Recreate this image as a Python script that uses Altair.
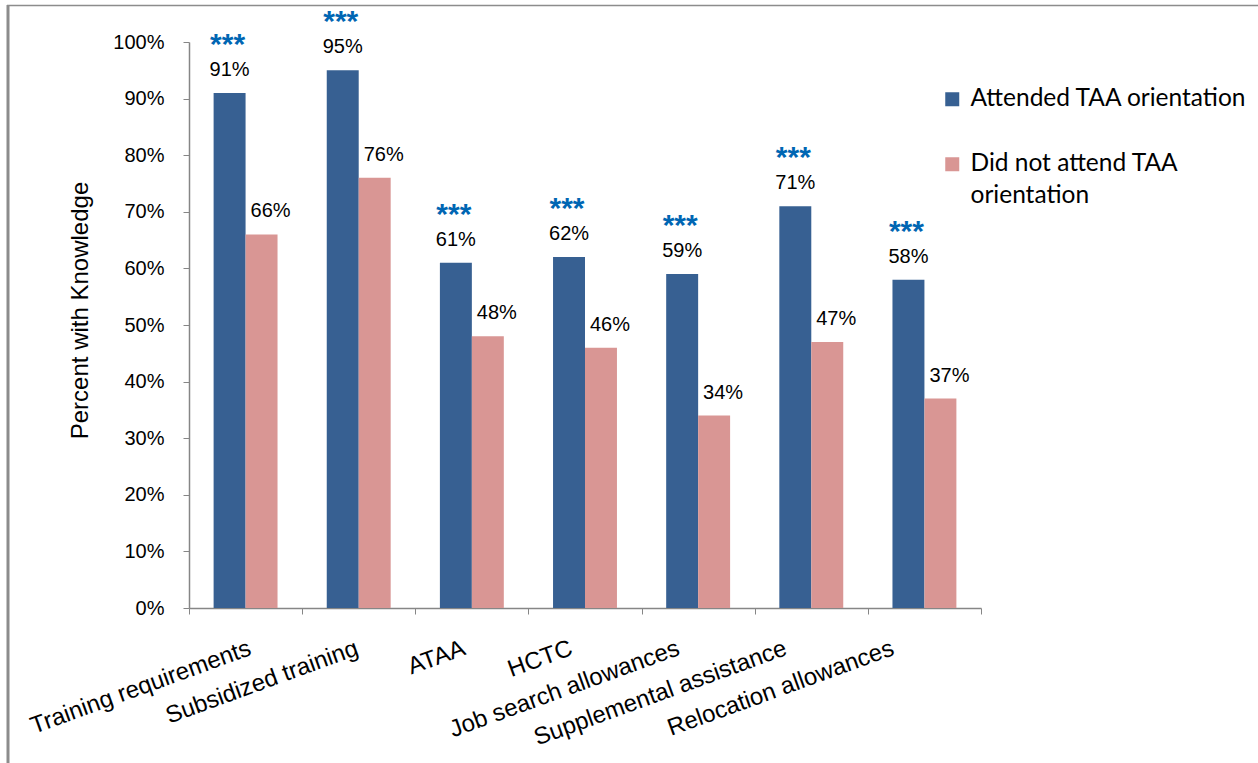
import altair as alt
import pandas as pd

# --- data -------------------------------------------------------------
categories = [
    "Training requirements",
    "Subsidized training",
    "ATAA",
    "HCTC",
    "Job search allowances",
    "Supplemental assistance",
    "Relocation allowances",
]
attended = [0.91, 0.95, 0.61, 0.62, 0.59, 0.71, 0.58]
not_attended = [0.66, 0.76, 0.48, 0.46, 0.34, 0.47, 0.37]
significance = ["***", "***", "***", "***", "***", "***", "***"]

series_names = ["Attended TAA orientation", "Did not attend TAA orientation"]
series_colors = ["#376092", "#D99694"]
y_ticks = [0.0, 0.1, 0.2, 0.3, 0.4, 0.5, 0.6, 0.7, 0.8, 0.9, 1.0]

rows = []
for cat, a, n, sig in zip(categories, attended, not_attended, significance):
    rows.append({"category": cat, "group": series_names[0], "value": a, "stars": sig})
    rows.append({"category": cat, "group": series_names[1], "value": n, "stars": ""})
df = pd.DataFrame(rows)

# --- layout -----------------------------------------------------------
W, H = 792, 566
PAD = {"left": 189, "top": 42, "right": 1258 - 189 - W, "bottom": 763 - 42 - H}
AXIS_GRAY = "#868686"
FONT = "Liberation Sans"

x_enc = alt.X(
    "category:N",
    sort=categories,
    scale=alt.Scale(domain=categories, paddingInner=0, paddingOuter=0),
    axis=alt.Axis(
        title=None,
        labelAngle=340,
        labelAlign="right",
        labelBaseline="top",
        labelFont=FONT,
        labelFontSize=24,
        labelColor="black",
        labelPadding=22,
        labelLimit=400,
        labelOverlap=False,
        labelOffset=alt.ExprRef(expr="-36 * datum.index"),
        tickBand="extent",
        tickSize=6,
        tickColor=AXIS_GRAY,
        domainColor=AXIS_GRAY,
        domainWidth=1.5,
        grid=False,
    ),
)
xoff_enc = alt.XOffset(
    "group:N",
    sort=series_names,
    scale=alt.Scale(domain=series_names, paddingInner=0, paddingOuter=0.77),
)
y_enc = alt.Y(
    "value:Q",
    scale=alt.Scale(domain=[0, 1], nice=False),
    axis=alt.Axis(
        title="Percent with Knowledge",
        titleFont=FONT,
        titleFontSize=24,
        titleFontWeight="normal",
        titleColor="black",
        titleAngle=270,
        titleBaseline="middle",
        titleAlign="center",
        titleX=-109,
        titleY=268,
        values=y_ticks,
        format=".0%",
        labelFont=FONT,
        labelFontSize=20,
        labelColor="black",
        labelPadding=19,
        tickSize=6,
        tickColor=AXIS_GRAY,
        domainColor=AXIS_GRAY,
        domainWidth=1.5,
        grid=False,
    ),
)

base = alt.Chart(df).encode(x=x_enc, xOffset=xoff_enc, y=y_enc)

bars = base.mark_bar(strokeWidth=0).encode(
    color=alt.Color(
        "group:N",
        sort=series_names,
        scale=alt.Scale(domain=series_names, range=series_colors),
        legend=alt.Legend(
            title=None,
            orient="none",
            legendX=751,
            legendY=45,
            direction="vertical",
            columns=1,
            padding=0,
            symbolType="square",
            symbolSize=196,
            symbolStrokeWidth=0,
            labelFont="Lato",
            labelFontSize=24.5,
            labelColor="black",
            labelOffset=6,
            labelLimit=400,
            rowPadding=40,
            labelExpr=(
                "datum.label == 'Did not attend TAA orientation' "
                "? ['Did not attend TAA', 'orientation'] : datum.label"
            ),
        ),
    )
)

label_style = dict(font=FONT, fontSize=20, color="black", baseline="alphabetic", dy=-17)
label_text = alt.Text("value:Q", format=".0%")

attended_labels = (
    base.transform_filter(alt.datum.group == series_names[0])
    .mark_text(**label_style)
    .encode(text=label_text)
)
not_attended_labels = (
    base.transform_filter(alt.datum.group == series_names[1])
    .mark_text(dx=9, **label_style)
    .encode(text=label_text)
)

stars = (
    base.transform_filter(alt.datum.stars != "")
    .mark_text(font=FONT, fontSize=30, fontWeight="bold", color="#0066B3",
               baseline="alphabetic", dx=-2, dy=-39)
    .encode(text="stars:N")
)

# outer frame of the chart area
frame_src = alt.Chart(pd.DataFrame({"k": [0]}))
frame_left = frame_src.mark_rule(color="#8C8C8C", strokeWidth=3).encode(
    x=alt.value(-181), y=alt.value(-37), y2=alt.value(763 - 42)
)
frame_top = frame_src.mark_rule(color="#8C8C8C", strokeWidth=1.5).encode(
    x=alt.value(-182), x2=alt.value(1258 - 189), y=alt.value(-36.5)
)

chart = (
    alt.layer(bars, attended_labels, not_attended_labels, stars, frame_left, frame_top)
    .properties(
        width=W,
        height=H,
        padding=PAD,
        autosize=alt.AutoSizeParams(type="none"),
        background="white",
    )
    .configure(style={"guide-label": {"lineHeight": 32}})
    .configure_view(stroke=None)
)

chart.save("out.html", embed_options={"renderer": "svg", "actions": False})
